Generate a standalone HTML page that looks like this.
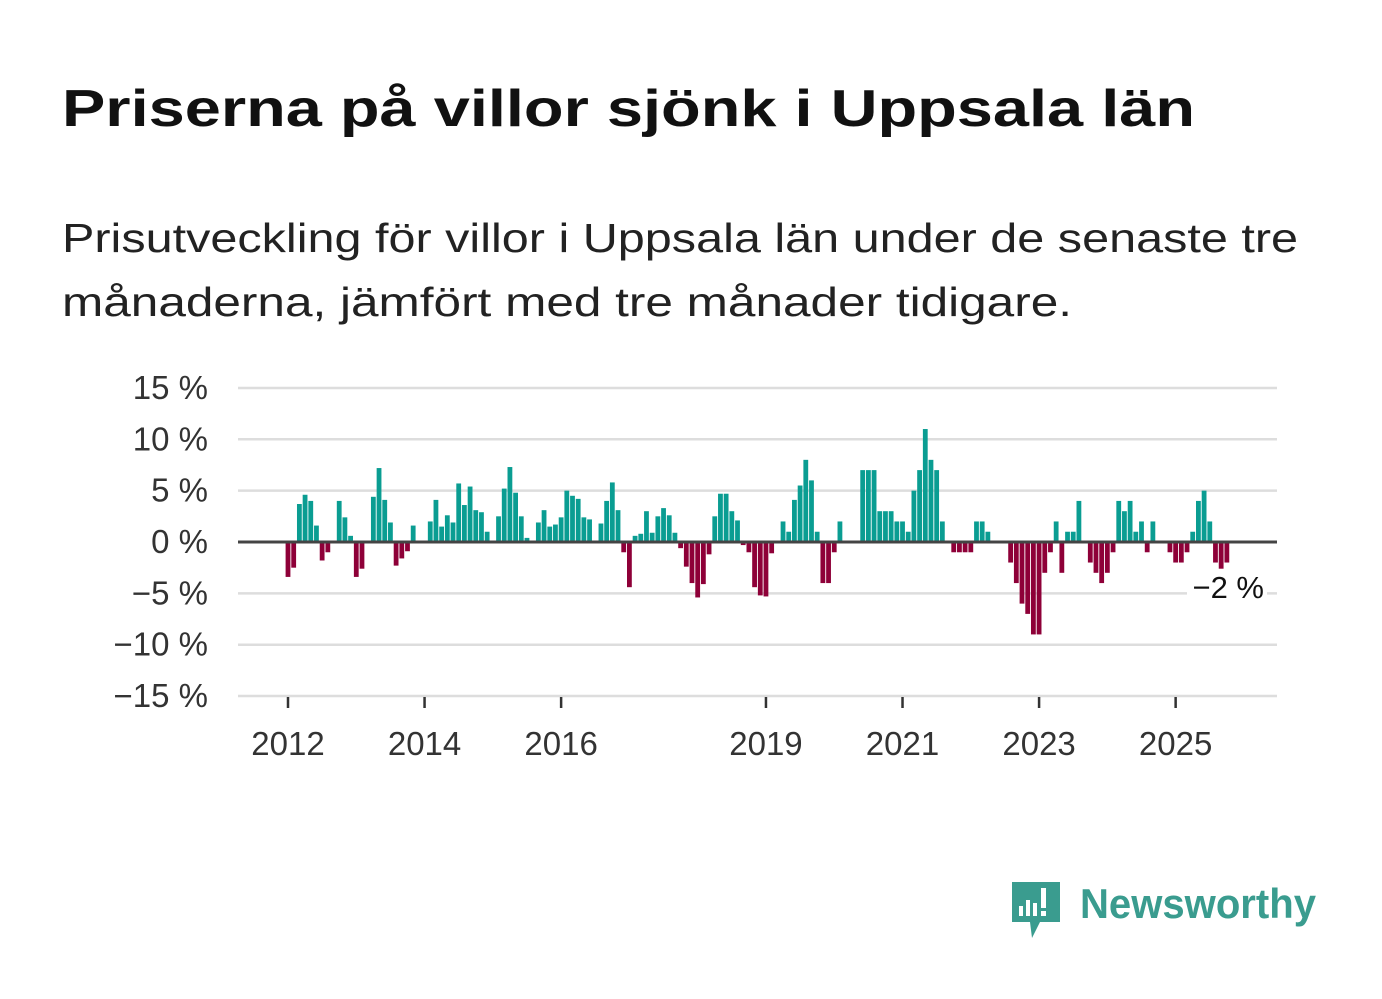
<!DOCTYPE html>
<html><head><meta charset="utf-8"><style>
html,body{margin:0;padding:0;background:#fff;}
svg{display:block;font-family:"Liberation Sans",sans-serif;}
</style></head><body>
<svg id="chart" width="1382" height="999" viewBox="0 0 1382 999" xmlns="http://www.w3.org/2000/svg">
<text x="62" y="126" font-size="52" font-weight="bold" fill="#111" textLength="1133" lengthAdjust="spacingAndGlyphs">Priserna på villor sjönk i Uppsala län</text>
<text x="62" y="252" font-size="41" fill="#222" textLength="1236" lengthAdjust="spacingAndGlyphs">Prisutveckling för villor i Uppsala län under de senaste tre</text>
<text x="62" y="316" font-size="41" fill="#222" textLength="1010" lengthAdjust="spacingAndGlyphs">månaderna, jämfört med tre månader tidigare.</text>
<g id="grid"></g>
<g id="bars"></g>
<g id="axes"></g>
<g>
<path d="M1012 882 h48 v40 h-20 l-8 16 l-2 -16 h-18 z" fill="#3a9c8f"/>
<rect x="1019" y="906" width="4" height="10" fill="#fff"/>
<rect x="1026" y="900" width="4" height="16" fill="#fff"/>
<rect x="1033" y="903" width="4" height="13" fill="#fff"/>
<rect x="1041" y="888" width="5" height="20" fill="#fff"/>
<rect x="1041" y="911" width="5" height="5" fill="#fff"/>
<text x="1080" y="918" font-size="42" font-weight="bold" fill="#3a9c8f" textLength="236" lengthAdjust="spacingAndGlyphs">Newsworthy</text>
</g>
</svg>
<script>
const values = [
-3.4,-2.5,3.7,4.6,4.0,1.6,-1.8,-1.0,null,4.0,2.4,0.6,
-3.4,-2.6,null,4.4,7.2,4.1,1.9,-2.3,-1.6,-0.9,1.6,null,
null,2.0,4.1,1.5,2.6,1.9,5.7,3.6,5.4,3.1,2.9,1.0,
null,2.5,5.2,7.3,4.8,2.5,0.4,null,1.9,3.1,1.5,1.7,
2.4,5.0,4.5,4.2,2.4,2.2,null,1.8,4.0,5.8,3.1,-1.0,
-4.4,0.6,0.8,3.0,0.9,2.5,3.3,2.6,0.9,-0.6,-2.4,-4.0,
-5.4,-4.1,-1.2,2.5,4.7,4.7,3.0,2.1,-0.3,-1.0,-4.4,-5.2,
-5.3,-1.1,null,2.0,1.0,4.1,5.5,8.0,6.0,1.0,-4.0,-4.0,
-1.0,2.0,null,null,null,7,7,7,3,3,3,2,
2,1,5,7,11,8,7,2,null,-1,-1,-1,
-1,2,2,1,null,null,null,-2,-4,-6,-7,-9,
-9,-3,-1,2,-3,1,1,4,null,-2,-3,-4,
-3,-1,4,3,4,1,2,-1,2,null,null,-1,
-2,-2,-1,1,4,5,2,-2,-2.6,-2
];
const startYear = 2012;
const yTicks = [15,10,5,0,-5,-10,-15];
const yTickLabels = ["15 %","10 %","5 %","0 %","\u22125 %","\u221210 %","\u221215 %"];
const xTickYears = [2012,2014,2016,2019,2021,2023,2025];
const lastLabel = "\u22122 %";

const NS="http://www.w3.org/2000/svg";
const y = v => 542 - v*10.27;
const x = i => 288 + i*5.69;
const xYear = yr => x((yr-startYear)*12);
function mk(tag, attrs, parent){const e=document.createElementNS(NS,tag);for(const k in attrs)e.setAttribute(k,attrs[k]);parent.appendChild(e);return e;}
const grid=document.getElementById('grid'), bars=document.getElementById('bars'), axes=document.getElementById('axes');
yTicks.forEach((t,k)=>{
  if(t!==0){const l=mk('line',{x1:238,x2:1277,y1:y(t),y2:y(t),stroke:'#ddd','stroke-width':2.5},grid);
  
  }
  const tx=mk('text',{x:208,y:y(t)+11,'font-size':33,fill:'#333','text-anchor':'end'},axes);
  tx.textContent=yTickLabels[k];
  
  
});
values.forEach((v,i)=>{
  if(v===null)return;
  const top=Math.min(y(v),y(0)), h=Math.abs(y(v)-y(0));
  const r=mk('rect',{x:x(i)-2.4,y:top,width:4.8,height:h,fill:v>=0?'#0a9d92':'#8e0038'},bars);
  
  
});
const zl=mk('line',{x1:238,x2:1277,y1:y(0),y2:y(0),stroke:'#444','stroke-width':3},axes);


xTickYears.forEach(yr=>{
  const xx=xYear(yr);
  const tk=mk('line',{x1:xx,x2:xx,y1:697,y2:708,stroke:'#333','stroke-width':2.5},axes);
  
  
  const tx=mk('text',{x:xx,y:755,'font-size':33,fill:'#333','text-anchor':'middle'},axes);
  tx.textContent=String(yr);
  
  
});
const li=values.length-1;
const bg=mk('rect',{x:1187,y:572,width:80,height:34,fill:'#fff'},axes);


const lt=mk('text',{x:1264,y:598,'font-size':31,fill:'#111','text-anchor':'end'},axes);
lt.textContent=lastLabel;


</script>
</body></html>
